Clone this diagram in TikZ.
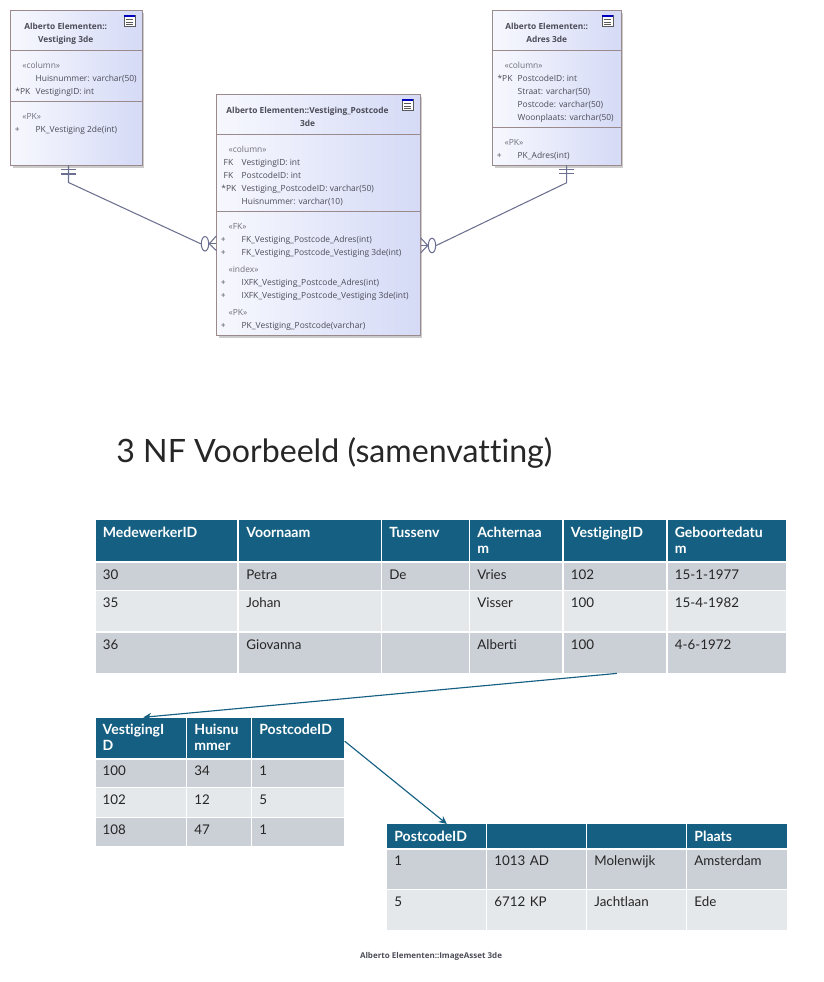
\documentclass[tikz,border=0pt]{standalone}
\usepackage{fontspec}
\setmainfont{Open Sans}
\newfontfamily\tablefont[RawFeature=-liga]{Lato}
\usepackage{tikz}
\usetikzlibrary{arrows.meta,positioning,calc,shapes.geometric,shadows}
\definecolor{classline}{HTML}{9A8A8C}
\definecolor{classink}{HTML}{4C4C58}
\definecolor{stereoink}{HTML}{70707C}
\definecolor{erline}{HTML}{6B7090}
\definecolor{classleft}{HTML}{F7F8FE}
\definecolor{classright}{HTML}{D5DAF6}
\definecolor{teal}{HTML}{156082}
\definecolor{rowdark}{HTML}{CBCFD6}
\definecolor{rowlight}{HTML}{E5E8EB}
\tikzset{classbox/.style 2 args={draw=classline,line width=.6pt,left color=classleft,right color=classright,minimum width=#1*.02cm,minimum height=#2*.02cm,anchor=north west,inner sep=0,drop shadow={shadow xshift=.045cm,shadow yshift=-.045cm,fill=black!20,opacity=1}},
 divider/.style={draw=classline,line width=.55pt},
 boxtitle/.style={font=\fontsize{4.75}{7.4}\selectfont\bfseries,text=classink,anchor=base,inner sep=0,yshift=-.02cm},
 row/.style={font=\fontsize{4.8}{7.4}\selectfont,text=classink,anchor=base west,inner sep=0,yshift=-.02cm},
 stereo/.style={row,text=stereoink},
 keytag/.style={row,anchor=base},
 erlink/.style={draw=erline,line width=.6pt},
 manyend/.style={ellipse,draw=erline,line width=.6pt,minimum width=.148cm,minimum height=.29cm,inner sep=0},
 cell/.style 2 args={anchor=north west,inner ysep=0,inner xsep=.14cm,text width={(#1-14)*.02cm},minimum width=#1*.02cm,align=left,text height=.32cm,text depth={(#2-16)*.02cm},font=\tablefont\fontsize{7.6}{9.45}\selectfont,text=black!85},
 head/.style={fill=teal,text=white,font=\tablefont\fontsize{8}{9.45}\selectfont\bfseries,text height=.334cm},
 dark/.style={fill=rowdark},
 light/.style={fill=rowlight},
 fk/.style={-{Stealth[length=1.6mm,width=1.5mm]},draw=teal,line width=.65pt},
 tabicon/.pic={\draw[black!65,fill=white,line width=.35pt] (-5.3,-5.8) rectangle (5.3,5.8);
  \fill[blue!75!black] (-5.3,-5.8) rectangle (5.3,-4);
  \foreach \y in {-1.5,1,3.5}{\draw[black!65,line width=.35pt] (-3.5,\y) -- (3.5,\y);}}}
\begin{document}
\begin{tikzpicture}[x=.02cm,y=-.02cm]
\useasboundingbox (0,0) rectangle (823,982);
% class boxes
\node[classbox={131.4}{155}] (vest) at (10.3,10.3) {};
\node[classbox={203.4}{241}] (koppel) at (216.3,94.3) {};
\node[classbox={128.4}{155}] (adres) at (492.3,10.3) {};
\draw[divider] (vest.west |- 0,50.3) -- (vest.east |- 0,50.3);
\draw[divider] (vest.west |- 0,101) -- (vest.east |- 0,101);
\draw[divider] (koppel.west |- 0,134.3) -- (koppel.east |- 0,134.3);
\draw[divider] (koppel.west |- 0,211.3) -- (koppel.east |- 0,211.3);
\draw[divider] (adres.west |- 0,50.3) -- (adres.east |- 0,50.3);
\draw[divider] (adres.west |- 0,127.3) -- (adres.east |- 0,127.3);
\pic at (129.7,21) {tabicon};
\pic at (407.5,105) {tabicon};
\pic at (607.5,21) {tabicon};
% Vestiging
\node[boxtitle] (vt1) at (65.7,29) {Alberto Elementen::};
\node[boxtitle] (vt2) at (65.7,42) {Vestiging 3de};
\node[stereo] (vs1) at (22,68) {«column»};
\node[row] (vr1) at (35.3,81) {Huisnummer: varchar(50)};
\node[keytag] (vk1) at (22.8,94) {*PK};
\node[row] (vr2) at (35.3,94) {VestigingID: int};
\node[stereo] (vs2) at (22,119) {«PK»};
\node[keytag] (vk2) at (17.3,132) {+};
\node[row] (vr3) at (35.3,132) {PK\_Vestiging 2de(int)};
% Vestiging_Postcode
\node[boxtitle] (kt1) at (307.5,113) {Alberto Elementen::Vestiging\_Postcode};
\node[boxtitle] (kt2) at (307.5,126) {3de};
\node[stereo] (ks1) at (228.3,152) {«column»};
\node[keytag] (kk1) at (228.5,165) {FK};
\node[row] (kr1) at (241.3,165) {VestigingID: int};
\node[keytag] (kk2) at (228.5,178) {FK};
\node[row] (kr2) at (241.3,178) {PostcodeID: int};
\node[keytag] (kk3) at (228.8,191) {*PK};
\node[row] (kr3) at (241.3,191) {Vestiging\_PostcodeID: varchar(50)};
\node[row] (kr4) at (241.3,204) {Huisnummer: varchar(10)};
\node[stereo] (ks2) at (228.3,229) {«FK»};
\node[keytag] (kk4) at (223.3,242) {+};
\node[row] (kr5) at (241.3,242) {FK\_Vestiging\_Postcode\_Adres(int)};
\node[keytag] (kk5) at (223.3,255) {+};
\node[row] (kr6) at (241.3,255) {FK\_Vestiging\_Postcode\_Vestiging 3de(int)};
\node[stereo] (ks3) at (228.3,272) {«index»};
\node[keytag] (kk6) at (223.3,285) {+};
\node[row] (kr7) at (241.3,285) {IXFK\_Vestiging\_Postcode\_Adres(int)};
\node[keytag] (kk7) at (223.3,298) {+};
\node[row] (kr8) at (241.3,298) {IXFK\_Vestiging\_Postcode\_Vestiging 3de(int)};
\node[stereo] (ks4) at (228.3,315) {«PK»};
\node[keytag] (kk8) at (223.3,328) {+};
\node[row] (kr9) at (241.3,328) {PK\_Vestiging\_Postcode(varchar)};
% Adres
\node[boxtitle] (at1) at (546.7,29) {Alberto Elementen::};
\node[boxtitle] (at2) at (546.7,42) {Adres 3de};
\node[stereo] (as1) at (504.3,68) {«column»};
\node[keytag] (ak1) at (505,81) {*PK};
\node[row] (ar1) at (517.3,81) {PostcodeID: int};
\node[row] (ar2) at (517.3,94) {Straat: varchar(50)};
\node[row] (ar3) at (517.3,107) {Postcode: varchar(50)};
\node[row] (ar4) at (517.3,120) {Woonplaats: varchar(50)};
\node[stereo] (as2) at (504.3,145) {«PK»};
\node[keytag] (ak2) at (499.3,158) {+};
\node[row] (ar5) at (517.3,158) {PK\_Adres(int)};
% ER connectors
\coordinate (vestFoot) at (68.5,165.3);
\coordinate (vestBend) at (68.5,182.5);
\coordinate (adresFoot) at (566.7,165.3);
\coordinate (adresBend) at (566.7,182.7);
\node[manyend] (ovL) at (205,243.8) {};
\node[manyend] (ovR) at (432,245.5) {};
\draw[erlink] (vestFoot) -- (vestBend) -- (ovL.west);
\draw[erlink] (adresFoot) -- (adresBend) -- (ovR.east);
\draw[erlink] (61,169.5) -- (76,169.5);
\draw[erlink] (61,174) -- (76,174);
\draw[erlink] (559,169.3) -- (574,169.3);
\draw[erlink] (559,173.5) -- (574,173.5);
\draw[erlink] (koppel.west |- 0,236) -- (ovL.east) -- (koppel.west |- 0,250.5);
\draw[erlink] (ovL.east) -- (koppel.west |- ovL.east);
\draw[erlink] (koppel.east |- 0,238) -- (ovR.west) -- (koppel.east |- 0,252.8);
\draw[erlink] (ovR.west) -- (koppel.east |- ovR.west);
% heading and footer
\node[anchor=base west,inner sep=0,font=\tablefont\fontsize{18.3}{20}\selectfont,text=black!85] (kop) at (116,462) {3 NF Voorbeeld (samenvatting)};
\node[anchor=base,inner sep=0,font=\fontsize{4.55}{6}\selectfont\bfseries,text=classink] (voet) at (431,958) {Alberto Elementen::ImageAsset 3de};
% medewerker table
\node[cell={141.5}{40},head] (mh1) at (95.5,520) {MedewerkerID};
\node[cell={141.5}{40},head] (mh2) at (239,520) {Voornaam};
\node[cell={86.5}{40},head] (mh3) at (382,520) {Tussenv};
\node[cell={91.5}{40},head] (mh4) at (470,520) {Achternaa\\m};
\node[cell={102}{40},head] (mh5) at (563.5,520) {VestigingID};
\node[cell={118.5}{40},head] (mh6) at (667.5,520) {Geboortedatu\\m};
\node[cell={141.5}{26.5},dark] (ma1) at (95.5,562.7) {30};
\node[cell={141.5}{26.5},dark] (ma2) at (239,562.7) {Petra};
\node[cell={86.5}{26.5},dark] (ma3) at (382,562.7) {De};
\node[cell={91.5}{26.5},dark] (ma4) at (470,562.7) {Vries};
\node[cell={102}{26.5},dark] (ma5) at (563.5,562.7) {102};
\node[cell={118.5}{26.5},dark] (ma6) at (667.5,562.7) {15-1-1977};
\node[cell={141.5}{39.7},light] (mb1) at (95.5,591) {35};
\node[cell={141.5}{39.7},light] (mb2) at (239,591) {Johan};
\node[cell={86.5}{39.7},light] (mb3) at (382,591) {};
\node[cell={91.5}{39.7},light] (mb4) at (470,591) {Visser};
\node[cell={102}{39.7},light] (mb5) at (563.5,591) {100};
\node[cell={118.5}{39.7},light] (mb6) at (667.5,591) {15-4-1982};
\node[cell={141.5}{40},dark] (mc1) at (95.5,632.7) {36};
\node[cell={141.5}{40},dark] (mc2) at (239,632.7) {Giovanna};
\node[cell={86.5}{40},dark] (mc3) at (382,632.7) {};
\node[cell={91.5}{40},dark] (mc4) at (470,632.7) {Alberti};
\node[cell={102}{40},dark] (mc5) at (563.5,632.7) {100};
\node[cell={118.5}{40},dark] (mc6) at (667.5,632.7) {4-6-1972};
% vestiging table
\node[cell={90.4}{39.4},head] (vh1) at (95.3,717.3) {VestigingI\\D};
\node[cell={63.3}{39.4},head] (vh2) at (187,717.3) {Huisnu\\mmer};
\node[cell={92}{39.4},head] (vh3) at (252,717.3) {PostcodeID};
\node[cell={90.4}{27.4},dark] (va1) at (95.3,759.3) {100};
\node[cell={63.3}{27.4},dark] (va2) at (187,759.3) {34};
\node[cell={92}{27.4},dark] (va3) at (252,759.3) {1};
\node[cell={90.4}{28.3},light] (vb1) at (95.3,788) {102};
\node[cell={63.3}{28.3},light] (vb2) at (187,788) {12};
\node[cell={92}{28.3},light] (vb3) at (252,788) {5};
\node[cell={90.4}{28.3},dark] (vc1) at (95.3,817.7) {108};
\node[cell={63.3}{28.3},dark] (vc2) at (187,817.7) {47};
\node[cell={92}{28.3},dark] (vc3) at (252,817.7) {1};
% postcode table
\node[cell={99}{22.7},head] (ph1) at (387,824) {PostcodeID};
\node[cell={99}{22.7},head] (ph2) at (487,824) {};
\node[cell={99}{22.7},head] (ph3) at (587,824) {};
\node[cell={99.7}{22.7},head] (ph4) at (687,824) {Plaats};
\node[cell={99}{39.4},dark] (pa1) at (387,849.3) {1};
\node[cell={99}{39.4},dark] (pa2) at (487,849.3) {1013 AD};
\node[cell={99}{39.4},dark] (pa3) at (587,849.3) {Molenwijk};
\node[cell={99.7}{39.4},dark] (pa4) at (687,849.3) {Amsterdam};
\node[cell={99}{40},light] (pb1) at (387,890) {5};
\node[cell={99}{40},light] (pb2) at (487,890) {6712 KP};
\node[cell={99}{40},light] (pb3) at (587,890) {Jachtlaan};
\node[cell={99.7}{40},light] (pb4) at (687,890) {Ede};
% foreign keys
\draw[fk] ([xshift=.04cm]mc5.south) -- ([xshift=.05cm]vh1.north);
\draw[fk] ([yshift=-.07cm]vh3.east) -- ([xshift=.2cm]ph1.north);
\end{tikzpicture}
\end{document}
